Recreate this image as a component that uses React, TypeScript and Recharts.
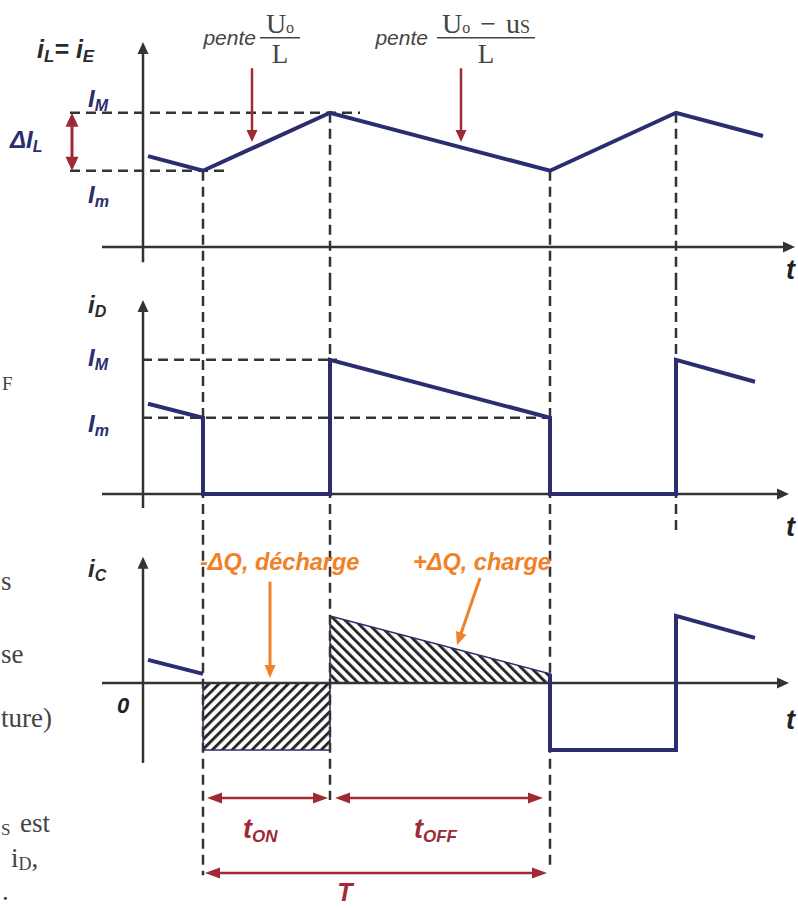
import React from 'react';
import { ComposedChart, Line, Area, XAxis, YAxis, ReferenceLine, ReferenceDot } from 'recharts';

const WIDTH = 798;
const HEIGHT = 908;
const PX_PER_UNIT = 61;

const SANS = '"Liberation Sans", Arial, Helvetica, sans-serif';
const SERIF = '"Liberation Serif", "Times New Roman", serif';

const NAVY = '#2b2d6e';
const INK = '#333333';
const RED = '#9e2a33';
const ORANGE = '#f08126';

// Time axis (0 sits on the vertical axes)
const timeDomain = [-1.43, 6.55];
const switchTimes = [0.6, 1.87, 4.07, 5.33];

// Current levels
const IM = 2.2;
const Im = 1.25;

// Inductor current iL = iE
const iLTimes = [0.05, 0.6, 1.87, 4.07, 5.33, 6.2];
const iLValues = [1.49, 1.25, 2.2, 1.25, 2.2, 1.82];

// Diode current iD
const iDTimes = [0.05, 0.6, 0.6, 1.87, 1.87, 4.07, 4.07, 5.33, 5.33, 6.12];
const iDValues = [1.48, 1.25, 0, 0, 2.2, 1.25, 0, 0, 2.2, 1.84];

// Capacitor current iC = iD - Io
const iCTimes = [0.05, 0.6, 0.6, 1.87, 1.87, 4.07, 4.07, 5.33, 5.33, 6.12];
const iCValues = [0.38, 0.15, -1.1, -1.1, 1.1, 0.15, -1.1, -1.1, 1.1, 0.74];

type Pt = { t: number; v: number };
const zip = (ts: number[], vs: number[]): Pt[] => ts.map((t, i) => ({ t, v: vs[i] }));

const iLData = zip(iLTimes, iLValues);
const iDData = zip(iDTimes, iDValues);
const iCData = zip(iCTimes, iCValues);
const iCHead = iCData.slice(0, 2);
const iCTail = iCData.slice(5);
// shaded charge areas (between the curve and zero)
const dischargeData: Pt[] = [{ t: iCTimes[2], v: 0 }, ...iCData.slice(2, 4), { t: iCTimes[3], v: 0 }];
const chargeData: Pt[] = [{ t: iCTimes[4], v: 0 }, ...iCData.slice(4, 6), { t: iCTimes[5], v: 0 }];

// Each panel has its own y axis; the row where zero lands stacks them
const zeroRow = { iL: 247, iD: 494, iC: 683 };
const domainFor = (row: number) => [(row - HEIGHT) / PX_PER_UNIT, row / PX_PER_UNIT];

type ArrowOpts = { color: string; width: number; len: number; half: number; start?: boolean; end?: boolean };
const arrowShape = (o: ArrowOpts) => (p: any) => {
  const { x1, y1, x2, y2 } = p;
  const L = Math.hypot(x2 - x1, y2 - y1) || 1;
  const ux = (x2 - x1) / L;
  const uy = (y2 - y1) / L;
  const head = (tx: number, ty: number, dx: number, dy: number) => {
    const bx = tx - dx * o.len;
    const by = ty - dy * o.len;
    return `${tx},${ty} ${bx - dy * o.half},${by + dx * o.half} ${bx + dy * o.half},${by - dx * o.half}`;
  };
  const hasEnd = o.end !== false;
  const sx = o.start ? x1 + ux * o.len * 0.6 : x1;
  const sy = o.start ? y1 + uy * o.len * 0.6 : y1;
  const ex = hasEnd ? x2 - ux * o.len * 0.6 : x2;
  const ey = hasEnd ? y2 - uy * o.len * 0.6 : y2;
  return (
    <g>
      <line x1={sx} y1={sy} x2={ex} y2={ey} stroke={o.color} strokeWidth={o.width} />
      {hasEnd && <polygon points={head(x2, y2, ux, uy)} fill={o.color} />}
      {o.start && <polygon points={head(x1, y1, -ux, -uy)} fill={o.color} />}
    </g>
  );
};

const axisArrow = arrowShape({ color: INK, width: 2.5, len: 12, half: 5.5 });
const redArrow = arrowShape({ color: RED, width: 2.5, len: 12, half: 5.5 });
const dimArrow = arrowShape({ color: RED, width: 2.5, len: 15, half: 5.5, start: true });
const spanArrow = arrowShape({ color: RED, width: 3, len: 14, half: 6.5, start: true });
const orangeArrow = arrowShape({ color: ORANGE, width: 3, len: 13, half: 5.5 });

const seg = (key: string, axis: string, t1: number, v1: number, t2: number, v2: number, shape?: any, dashed = false) => (
  <ReferenceLine
    key={key}
    yAxisId={axis}
    segment={[{ x: t1, y: v1 }, { x: t2, y: v2 }]}
    stroke={INK}
    strokeWidth={2.5}
    strokeDasharray={dashed ? '10 6' : undefined}
    shape={shape}
  />
);

const tag = (key: string, axis: string, t: number, v: number, draw: (x: number, y: number) => React.ReactElement) => (
  <ReferenceDot key={key} yAxisId={axis} x={t} y={v} r={0} fill="none" stroke="none" shape={(p: any) => draw(p.cx, p.cy)} />
);

const bold = { fontFamily: SANS, fontWeight: 'bold' as const, fontStyle: 'italic' as const };

const sym = (main: string, sub: string, color: string, size = 24, subSize = 16) => (x: number, y: number) => (
  <text x={x} y={y} fill={color} fontSize={size} {...bold}>
    {main}
    <tspan fontSize={subSize} dy={4}>{sub}</tspan>
  </text>
);

const slopeLabel = (numer: React.ReactNode, half: number, penteGap: number) => (x: number, y: number) => (
  <g>
    <text x={x - penteGap} y={y + 7} fill="#444" fontFamily={SANS} fontStyle="italic" fontSize={21} textAnchor="end">
      pente
    </text>
    <text x={x} y={y - 5} fill="#444" fontFamily={SERIF} fontSize={28} textAnchor="middle">
      {numer}
    </text>
    <line x1={x - half} y1={y} x2={x + half} y2={y} stroke="#444" strokeWidth={1.5} />
    <text x={x} y={y + 25} fill="#444" fontFamily={SERIF} fontSize={27} textAnchor="middle">
      L
    </text>
  </g>
);

// Panel limits (in each panel's own units) used by the vertical guides
const iLBottom = -0.54;
const iDTop = 3.51;
const iDBottom = -0.67;
const iCTop = 2.43;
const guideEndsIC = [-3.15, -1.92, -3.07];

export default function App() {
  return (
    <div style={{ position: 'absolute', left: 0, top: 0, width: WIDTH, height: HEIGHT, background: '#fff' }}>
      <svg width={WIDTH} height={HEIGHT} style={{ position: 'absolute', left: 0, top: 0 }}>
        <defs>
          <pattern id="hatchRise" patternUnits="userSpaceOnUse" width="7" height="7" patternTransform="rotate(45)">
            <rect width="7" height="7" fill="#fff" />
            <rect x="0" y="0" width="2.8" height="7" fill="#222" />
          </pattern>
          <pattern id="hatchFall" patternUnits="userSpaceOnUse" width="7" height="7" patternTransform="rotate(-45)">
            <rect width="7" height="7" fill="#fff" />
            <rect x="0" y="0" width="2.8" height="7" fill="#222" />
          </pattern>
        </defs>
        <g fill="#444" fontFamily={SERIF} fontSize={27}>
          <text x={2} y={390} fontSize={19}>F</text>
          <text x={1} y={590}>s</text>
          <text x={1} y={663}>se</text>
          <text x={1} y={727}>ture)</text>
          <text x={1} y={835} fontSize={17}>S</text>
          <text x={20} y={832}>est</text>
          <text x={11} y={867}>
            i<tspan fontSize={18} dy={3}>D</tspan>
            <tspan dy={-3}>,</tspan>
          </text>
          <text x={2} y={900}>.</text>
        </g>
      </svg>
      <div style={{ position: 'absolute', left: 0, top: 0 }}>
        <ComposedChart width={WIDTH} height={HEIGHT} margin={{ top: 0, right: 0, bottom: 0, left: 0 }}>
          <XAxis type="number" dataKey="t" domain={timeDomain} allowDataOverflow hide />
          <YAxis yAxisId="iL" type="number" dataKey="v" domain={domainFor(zeroRow.iL)} allowDataOverflow hide />
          <YAxis yAxisId="iD" type="number" dataKey="v" domain={domainFor(zeroRow.iD)} allowDataOverflow hide />
          <YAxis yAxisId="iC" type="number" dataKey="v" domain={domainFor(zeroRow.iC)} allowDataOverflow hide />

          {/* vertical guides at the switching instants */}
          {switchTimes.map((t, i) => seg(`gL${i}`, 'iL', t, i % 2 === 0 ? Im : IM, t, iLBottom, undefined, true))}
          {switchTimes.map((t, i) => seg(`gD${i}`, 'iD', t, iDTop, t, iDBottom, undefined, true))}
          {guideEndsIC.map((v, i) => seg(`gC${i}`, 'iC', switchTimes[i], iCTop, switchTimes[i], v, undefined, true))}

          {/* level guides */}
          {seg('hL1', 'iL', -0.73, IM, 2.17, IM, undefined, true)}
          {seg('hL2', 'iL', -0.73, Im, 0.87, Im, undefined, true)}
          {seg('hD1', 'iD', -0.01, IM, 1.94, IM, undefined, true)}
          {seg('hD2', 'iD', -0.01, Im, 4.14, Im, undefined, true)}

          {/* axes */}
          {seg('yL', 'iL', 0, -0.25, 0, 3.36, axisArrow)}
          {seg('xL', 'iL', -0.41, 0, 6.52, 0, axisArrow)}
          {seg('yD', 'iD', 0, -0.23, 0, 3.18, axisArrow)}
          {seg('xD', 'iD', -0.41, 0, 6.46, 0, axisArrow)}
          {seg('yC', 'iC', 0, -1.31, 0, 2.07, axisArrow)}
          {seg('xC', 'iC', -0.41, 0, 6.46, 0, axisArrow)}

          {/* ripple, slope and timing arrows */}
          {seg('dIL', 'iL', -0.71, Im, -0.71, IM, spanArrow)}
          {seg('p1', 'iL', 1.09, 2.93, 1.09, 1.72, redArrow)}
          {seg('p2', 'iL', 3.18, 2.93, 3.18, 1.72, redArrow)}
          {seg('ton', 'iC', 0.64, -1.885, 1.85, -1.885, dimArrow)}
          {seg('toff', 'iC', 1.92, -1.885, 4.0, -1.885, dimArrow)}
          {seg('per', 'iC', 0.62, -3.115, 4.04, -3.115, dimArrow)}
          {seg('qd', 'iC', 1.27, 1.66, 1.27, 0.08, orangeArrow)}
          {seg('qc', 'iC', 3.37, 1.72, 3.14, 0.62, orangeArrow)}

          <Area yAxisId="iC" data={dischargeData} dataKey="v" type="linear" baseValue={0} fill="url(#hatchRise)" fillOpacity={1} stroke={NAVY} strokeWidth={1.5} isAnimationActive={false} dot={false} activeDot={false} />
          <Area yAxisId="iC" data={chargeData} dataKey="v" type="linear" baseValue={0} fill="url(#hatchFall)" fillOpacity={1} stroke={NAVY} strokeWidth={1.5} isAnimationActive={false} dot={false} activeDot={false} />

          <Line yAxisId="iL" data={iLData} dataKey="v" type="linear" stroke={NAVY} strokeWidth={4} dot={false} activeDot={false} isAnimationActive={false} />
          <Line yAxisId="iD" data={iDData} dataKey="v" type="linear" stroke={NAVY} strokeWidth={4} strokeLinejoin="miter" dot={false} activeDot={false} isAnimationActive={false} />
          <Line yAxisId="iC" data={iCHead} dataKey="v" type="linear" stroke={NAVY} strokeWidth={4} dot={false} activeDot={false} isAnimationActive={false} />
          <Line yAxisId="iC" data={iCTail} dataKey="v" type="linear" stroke={NAVY} strokeWidth={4} strokeLinejoin="miter" dot={false} activeDot={false} isAnimationActive={false} />

          {/* labels */}
          {tag('tL', 'iL', -1.06, 3.1, (x, y) => (
            <text x={x} y={y} fill="#2a2a2a" fontSize={25} {...bold}>
              i<tspan fontSize={17} dy={4}>L</tspan>
              <tspan dy={-4}>= i</tspan>
              <tspan fontSize={17} dy={4}>E</tspan>
            </text>
          ))}
          {tag('lIM1', 'iL', -0.55, 2.3, sym('I', 'M', NAVY))}
          {tag('lIm1', 'iL', -0.55, 0.72, sym('I', 'm', NAVY))}
          {tag('lDI', 'iL', -1.33, 1.62, sym('ΔI', 'L', NAVY))}
          {tag('tt1', 'iL', 6.43, -0.52, (x, y) => <text x={x} y={y} fill="#222" fontSize={27} {...bold}>t</text>)}
          {tag('s1', 'iL', 1.37, 3.43, slopeLabel(
            <>U<tspan fontSize={16}>o</tspan></>, 20, 24))}
          {tag('s2', 'iL', 3.43, 3.43, slopeLabel(
            <>U<tspan fontSize={16}>o</tspan><tspan dx={10}>−</tspan><tspan dx={10}>u</tspan><tspan fontSize={18}>S</tspan></>, 49, 58))}

          {tag('tD', 'iD', -0.55, 2.97, sym('i', 'D', '#2a2a2a'))}
          {tag('lIM2', 'iD', -0.55, 2.1, sym('I', 'M', NAVY))}
          {tag('lIm2', 'iD', -0.55, 1.02, sym('I', 'm', NAVY))}
          {tag('tt2', 'iD', 6.43, -0.69, (x, y) => <text x={x} y={y} fill="#222" fontSize={27} {...bold}>t</text>)}

          {tag('tC', 'iC', -0.55, 1.74, sym('i', 'C', '#2a2a2a'))}
          {tag('zero', 'iC', -0.26, -0.49, (x, y) => <text x={x} y={y} fill="#222" fontSize={22} {...bold}>0</text>)}
          {tag('tt3', 'iC', 6.43, -0.75, (x, y) => <text x={x} y={y} fill="#222" fontSize={27} {...bold}>t</text>)}
          {tag('qdl', 'iC', 0.57, 1.85, (x, y) => <text x={x} y={y} fill={ORANGE} fontSize={23.5} {...bold}>-ΔQ, décharge</text>)}
          {tag('qcl', 'iC', 2.7, 1.85, (x, y) => <text x={x} y={y} fill={ORANGE} fontSize={23.5} {...bold}>+ΔQ, charge</text>)}
          {tag('lon', 'iC', 1.0, -2.54, sym('t', 'ON', RED, 27, 17))}
          {tag('loff', 'iC', 2.71, -2.54, sym('t', 'OFF', RED, 27, 17))}
          {tag('lT', 'iC', 2.02, -3.58, (x, y) => <text x={x} y={y} fill={RED} fontSize={25} textAnchor="middle" {...bold}>T</text>)}
        </ComposedChart>
      </div>
    </div>
  );
}
